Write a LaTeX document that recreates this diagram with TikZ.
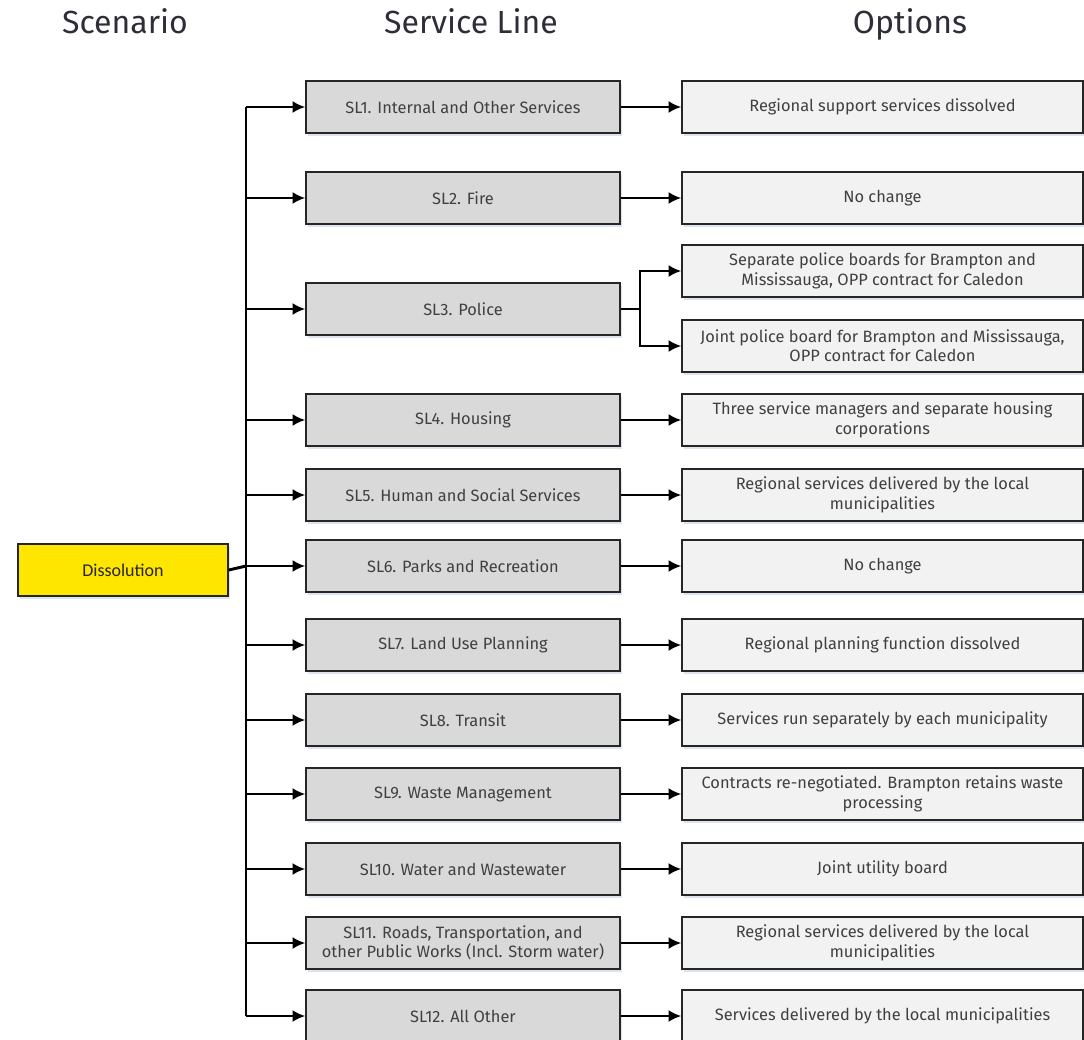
\documentclass[tikz,border=0pt]{standalone}
\usepackage{fontspec}
\setmainfont{Fira Sans}
\newfontfamily\calibfont{Carlito}
\usetikzlibrary{arrows.meta}
\usetikzlibrary{calc}
\usetikzlibrary{shadows}
\definecolor{eyyellow}{HTML}{FFE600}
\definecolor{slgray}{HTML}{D9D9D9}
\definecolor{optgray}{HTML}{F2F2F2}
\definecolor{txtgray}{HTML}{404040}
\definecolor{headgray}{HTML}{2E2E38}
\definecolor{shadowblue}{HTML}{DDE4F0}

\begin{document}
\begin{tikzpicture}[x=0.75pt,y=-0.75pt,>={Latex[length=9.5pt,width=9pt]},
    box/.style={draw=black!85,line width=1.2pt,text=txtgray,align=center,
      inner sep=0pt,font=\fontsize{12.3}{14.5}\selectfont,
      drop shadow={shadow xshift=1.5pt,shadow yshift=-2.5pt,fill=shadowblue,opacity=1}},
    slbox/.style={box,fill=slgray,minimum width=235.5pt,minimum height=39pt},
    optbox/.style={box,fill=optgray,minimum width=300.75pt,minimum height=39pt},
    scenbox/.style={box,fill=eyyellow,text=black!85,minimum width=157.5pt,
      minimum height=39pt,font=\calibfont\fontsize{13.5}{16}\selectfont},
    head/.style={font=\fontsize{24}{28}\selectfont,text=headgray,anchor=base},
    conn/.style={line width=1.5pt}]
    \useasboundingbox (0,0) rectangle (1084,1039);
    % column titles
    \node[head] (hscen) at (125,33) {Scenario};
    \node[head] (hline) at (471,33) {Service Line};
    \node[head] (hopt) at (910,33) {Options};
    % scenario
    \node[scenbox] (dis) at (123,570) {Dissolution};
    % service lines
    \node[slbox] (sl1) at (463,107) {SL1. Internal and Other Services};
    \node[slbox] (sl2) at (463,198) {SL2. Fire};
    \node[slbox] (sl3) at (463,309) {SL3. Police};
    \node[slbox] (sl4) at (463,420) {SL4. Housing};
    \node[slbox] (sl5) at (463,495) {SL5. Human and Social Services};
    \node[slbox] (sl6) at (463,566) {SL6. Parks and Recreation};
    \node[slbox] (sl7) at (463,645) {SL7. Land Use Planning};
    \node[slbox] (sl8) at (463,720) {SL8. Transit};
    \node[slbox] (sl9) at (463,794) {SL9. Waste Management};
    \node[slbox] (sl10) at (463,869) {SL10. Water and Wastewater};
    \node[slbox] (sl11) at (463,943) {SL11. Roads, Transportation, and\\other Public Works (Incl. Storm water)};
    \node[slbox] (sl12) at (463,1016) {SL12. All Other};
    % options
    \node[optbox] (opt1) at (882.5,107) {Regional support services dissolved};
    \node[optbox] (opt2) at (882.5,198) {No change};
    \node[optbox] (opt3a) at (882.5,271) {Separate police boards for Brampton and\\Mississauga, OPP contract for Caledon};
    \node[optbox] (opt3b) at (882.5,346) {Joint police board for Brampton and Mississauga,\\OPP contract for Caledon};
    \node[optbox] (opt4) at (882.5,420) {Three service managers and separate housing\\corporations};
    \node[optbox] (opt5) at (882.5,495) {Regional services delivered by the local\\municipalities};
    \node[optbox] (opt6) at (882.5,566) {No change};
    \node[optbox] (opt7) at (882.5,645) {Regional planning function dissolved};
    \node[optbox] (opt8) at (882.5,720) {Services run separately by each municipality};
    \node[optbox] (opt9) at (882.5,794) {Contracts re-negotiated. Brampton retains waste\\processing};
    \node[optbox] (opt10) at (882.5,869) {Joint utility board};
    \node[optbox] (opt11) at (882.5,943) {Regional services delivered by the local\\municipalities};
    \node[optbox] (opt12) at (882.5,1016) {Services delivered by the local municipalities};
    % trunk
    \coordinate (trunk) at (246,570);
    \draw[conn] (sl1.west -| trunk) -- (sl12.west -| trunk);
    \draw[line width=2.2pt] (dis.east) -- (sl6.west -| trunk);
    \foreach \i in {1,...,12}
      \draw[conn,->] (sl\i.west -| trunk) -- (sl\i.west);
    \foreach \i in {1,2,4,5,6,7,8,9,10,11,12}
      \draw[conn,->] (sl\i.east) -- (opt\i.west);
    % police fork
    \coordinate (fork) at ($(sl3.east)+(19,0)$);
    \draw[conn] (sl3.east) -- (fork);
    \draw[conn,->] (fork) |- (opt3a.west);
    \draw[conn,->] (fork) |- (opt3b.west);
\end{tikzpicture}
\end{document}
